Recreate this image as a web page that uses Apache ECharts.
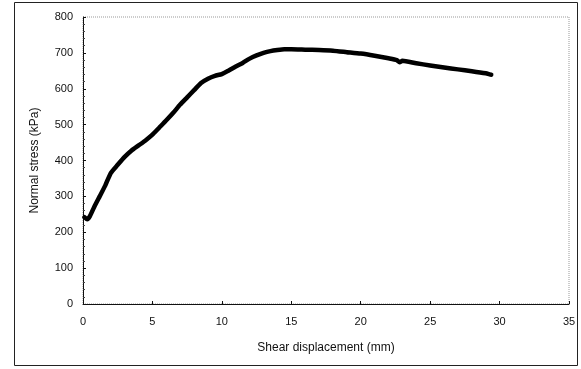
<!DOCTYPE html>
<html>
<head>
<meta charset="utf-8">
<script src="https://cdn.jsdelivr.net/npm/echarts@6/dist/echarts.min.js"></script>
<style>
  html, body { margin: 0; padding: 0; background: #fff; }
  #chart { width: 581px; height: 369px; }
</style>
</head>
<body>
<div id="chart"></div>
<script>
// --- data ------------------------------------------------------------------
const shearMm = [
  0.1, 0.3, 0.5, 0.8, 1.2, 1.6, 2.0, 2.5, 3.0, 3.5, 4.0, 4.5, 5.0, 5.5, 6.0,
  6.5, 7.0, 7.5, 8.0, 8.5, 9.0, 9.5, 10.0, 10.5, 11.0, 11.5, 12.0, 12.5, 13.0,
  13.5, 14.0, 14.5, 15.0, 16.0, 17.0, 18.0, 19.0, 20.0, 21.0, 22.0, 22.6, 22.8,
  23.0, 24.0, 25.0, 26.0, 27.0, 28.0, 29.0, 29.4,
];
const normalKPa = [
  242, 236, 245, 270, 300, 330, 365, 388, 410, 428, 442, 456, 472, 492, 512,
  533, 556, 576, 596, 616, 628, 636, 641, 651, 662, 672, 684, 693, 700,
  705, 708, 710, 710, 709, 708, 706, 702, 698, 692, 685, 680, 674,
  678, 671, 665, 659, 654, 649, 643, 639,
];
const xTicks = { min: 0, max: 35, step: 5 };
const yTicks = { min: 0, max: 800, step: 100 };

const FONT = "'Liberation Sans', Arial, sans-serif";
const INK = "#111";

const chart = echarts.init(document.getElementById("chart"), null, { renderer: "canvas" });
chart.setOption({
  animation: false,
  backgroundColor: "#fff",
  grid: {
    left: 83, top: 17, right: 12, bottom: 65,
    show: true, borderColor: "#999", borderWidth: 1, borderType: "dotted",
  },
  graphic: [{
    type: "rect", silent: true,
    shape: { x: 14.5, y: 2.5, width: 563, height: 363 },
    style: { fill: "none", stroke: "#222", lineWidth: 1 },
  }],
  xAxis: {
    type: "value", min: xTicks.min, max: xTicks.max, interval: xTicks.step,
    name: "Shear displacement (mm)", nameLocation: "middle", nameGap: 38,
    nameTextStyle: { fontFamily: FONT, fontSize: 12, color: INK },
    axisLine: { lineStyle: { color: INK, width: 1 } },
    axisTick: { show: true, inside: true, length: 3, lineStyle: { color: INK } },
    axisLabel: { fontFamily: FONT, fontSize: 11, color: INK, margin: 12 },
    splitLine: { show: false },
  },
  yAxis: {
    type: "value", min: yTicks.min, max: yTicks.max, interval: yTicks.step,
    name: "Normal stress (kPa)", nameLocation: "middle", nameGap: 42,
    nameTextStyle: { fontFamily: FONT, fontSize: 12, color: INK },
    axisLine: { show: true, lineStyle: { color: INK, width: 1 } },
    axisTick: { show: true, inside: true, length: 3, lineStyle: { color: INK } },
    minorTick: { show: true, splitNumber: 5, length: 2, lineStyle: { color: "#444" } },
    axisLabel: { fontFamily: FONT, fontSize: 11, color: INK, margin: 10 },
    splitLine: { show: false },
  },
  series: [{
    type: "line",
    data: shearMm.map((x, i) => [x, normalKPa[i]]),
    showSymbol: false,
    smooth: 0.2,
    lineStyle: { color: "#000", width: 4.5, cap: "round", join: "round" },
  }],
});
</script>
</body>
</html>
